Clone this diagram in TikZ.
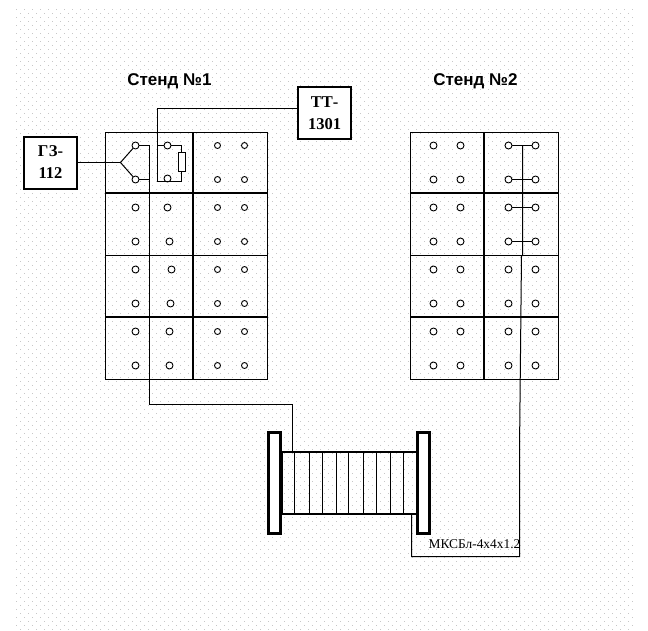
\documentclass[tikz,border=0pt]{standalone}
\usepackage{fontspec}
\setmainfont{Liberation Serif}
\setsansfont{Liberation Sans}
\usetikzlibrary{positioning}
\tikzset{
    term/.style = {circle, draw=black, fill=white, line width=0.9pt, inner sep=0pt, minimum size=7pt},
    termr/.style = {circle, draw=black, fill=white, line width=0.9pt, inner sep=0pt, minimum size=6pt},
    device/.style = {rectangle, draw=black, line width=2pt, fill=white, align=center, inner sep=0pt, minimum width=53pt, minimum height=52pt, font=\rmfamily\bfseries\fontsize{16.5}{22}\selectfont},
    title/.style = {font=\sffamily\bfseries\fontsize{17}{19}\selectfont, inner sep=0pt},
    frame/.style = {rectangle, draw=black, line width=1pt, inner sep=0pt},
    flange/.style = {rectangle, draw=black, line width=3pt, fill=white, inner sep=0pt, minimum width=12pt, minimum height=101pt},
    wire/.style = {draw=black, line width=1pt},
    thinln/.style = {draw=black, line width=1pt},
    midln/.style = {draw=black, line width=1.5pt},
    heavyln/.style = {draw=black, line width=2pt},
    griddots/.style = {draw=black!22, line width=1pt, dash pattern=on 1pt off 7pt}
}
\begin{document}
\begin{tikzpicture}[x=1pt,y=-1pt]
\useasboundingbox (-0.5,-0.5) rectangle (647.5,629.5);
% dots of the drawing sheet
\foreach \yy in {9,17,...,626} {\draw[griddots] (15.5,\yy) -- (633,\yy);}
\foreach \yy in {13,21,...,630} {\draw[griddots] (19.5,\yy) -- (629,\yy);}
%
\node[title] at (169, 81) (st1) {Стенд №1};
\node[title] at (475, 81) (st2) {Стенд №2};
\node[device] at (50, 162) (gz) {ГЗ-\\112};
\node[device] at (324, 112.5) (tt) {ТТ-\\1301};
%
\node[frame, minimum width=162pt, minimum height=247pt] at (186, 255.5) (fr1) {};
\node[frame, minimum width=148pt, minimum height=247pt] at (484, 255.5) (fr2) {};
\draw[heavyln] (192.5,132) -- (192.5,379);
\draw[heavyln] (105,192.5) -- (267,192.5);
\draw[thinln] (105,255) -- (267,255);
\draw[heavyln] (105,316.5) -- (267,316.5);
\draw[heavyln] (483.5,132) -- (483.5,379);
\draw[heavyln] (410,192.5) -- (558,192.5);
\draw[thinln] (410,255) -- (558,255);
\draw[heavyln] (410,316.5) -- (558,316.5);
% stand 1
\node[term] at (135, 145) (a1) {};
\node[term] at (135, 179) (a2) {};
\node[term] at (135, 207) (a3) {};
\node[term] at (135, 241) (a4) {};
\node[term] at (135, 269) (a5) {};
\node[term] at (135, 303) (a6) {};
\node[term] at (135, 331) (a7) {};
\node[term] at (135, 365) (a8) {};
\node[term] at (167, 145) (b1) {};
\node[term] at (167, 178) (b2) {};
\node[term] at (167, 207) (b3) {};
\node[term] at (169, 241) (b4) {};
\node[term] at (171, 269) (b5) {};
\node[term] at (170, 303) (b6) {};
\node[term] at (169, 331) (b7) {};
\node[term] at (169, 365) (b8) {};
\node[termr] at (217, 145) (c1) {};
\node[termr] at (217, 179) (c2) {};
\node[termr] at (217, 207) (c3) {};
\node[termr] at (217, 241) (c4) {};
\node[termr] at (217, 269) (c5) {};
\node[termr] at (217, 303) (c6) {};
\node[termr] at (217, 331) (c7) {};
\node[termr] at (217, 365) (c8) {};
\node[termr] at (244, 145) (d1) {};
\node[termr] at (244, 179) (d2) {};
\node[termr] at (244, 207) (d3) {};
\node[termr] at (244, 241) (d4) {};
\node[termr] at (244, 269) (d5) {};
\node[termr] at (244, 303) (d6) {};
\node[termr] at (244, 331) (d7) {};
\node[termr] at (244, 365) (d8) {};
% stand 2
\node[term] at (433, 145) (e1) {};
\node[term] at (433, 179) (e2) {};
\node[term] at (433, 207) (e3) {};
\node[term] at (433, 241) (e4) {};
\node[term] at (433, 269) (e5) {};
\node[term] at (433, 303) (e6) {};
\node[term] at (433, 331) (e7) {};
\node[term] at (433, 365) (e8) {};
\node[term] at (460, 145) (f1) {};
\node[term] at (460, 179) (f2) {};
\node[term] at (460, 207) (f3) {};
\node[term] at (460, 241) (f4) {};
\node[term] at (460, 269) (f5) {};
\node[term] at (460, 303) (f6) {};
\node[term] at (460, 331) (f7) {};
\node[term] at (460, 365) (f8) {};
\node[term] at (508, 145) (g1) {};
\node[term] at (508, 179) (g2) {};
\node[term] at (508, 207) (g3) {};
\node[term] at (508, 241) (g4) {};
\node[term] at (508, 269) (g5) {};
\node[term] at (508, 303) (g6) {};
\node[term] at (508, 331) (g7) {};
\node[term] at (508, 365) (g8) {};
\node[term] at (535, 145) (h1) {};
\node[term] at (535, 179) (h2) {};
\node[term] at (535, 207) (h3) {};
\node[term] at (535, 241) (h4) {};
\node[term] at (535, 269) (h5) {};
\node[term] at (535, 303) (h6) {};
\node[term] at (535, 331) (h7) {};
\node[term] at (535, 365) (h8) {};
% spool
\node[rectangle, draw=black, line width=2pt, inner sep=0pt, minimum width=136pt, minimum height=62pt] at (349, 482.5) (body) {};
\draw[midln] (294,452) -- (294,514);
\draw[thinln] (309,452) -- (309,514);
\draw[midln] (322,452) -- (322,514);
\draw[thinln] (336,452) -- (336,514);
\draw[midln] (348,452) -- (348,514);
\draw[thinln] (363,452) -- (363,514);
\draw[midln] (376,452) -- (376,514);
\draw[thinln] (390,452) -- (390,514);
\draw[midln] (403,452) -- (403,514);
\node[flange] at (274, 482) (fll) {};
\node[flange] at (423, 482) (flr) {};
\node[inner sep=0pt, font=\rmfamily\fontsize{13.4}{15}\selectfont] at (474, 544) (cab) {МКСБл-4х4х1.2};
% connections
\coordinate (fork) at (120, 162);
\coordinate (drop) at (149, 404);
\coordinate (busa) at (292, 452);
\coordinate (ttw) at (297, 108);
\coordinate (ttb) at (157, 181);
\coordinate (stub) at (157, 145);
\coordinate (busb) at (411, 514);
\coordinate (low) at (411, 556);
\coordinate (ret) at (519, 556);
\coordinate (jogb) at (519, 450);
\coordinate (joga) at (521, 255);
\coordinate (top) at (522, 145);
\node[rectangle, draw=black, line width=1pt, fill=white, inner sep=0pt, minimum width=7pt, minimum height=19pt] at (181, 161.5) (res) {};
\draw[wire] (gz.east |- fork) -- (fork);
\draw[wire] (fork) -- (a1);
\draw[wire] (fork) -- (a2);
\draw[wire] (a1) -| (drop);
\draw[wire] (a2) -| (drop);
\draw[wire] (drop) -| (busa);
\draw[wire] (ttw) -| (ttb);
\draw[wire] (ttb) -| (res.south);
\draw[wire] (stub) -- (b1);
\draw[wire] (b1) -| (res.north);
\draw[wire] (g1) -- (h1);
\draw[wire] (g2) -- (h2);
\draw[wire] (g3) -- (h3);
\draw[wire] (g4) -- (h4);
\draw[wire] (top) |- (joga) -- (jogb) -- (ret) -- (low) -- (busb);
\end{tikzpicture}
\end{document}
